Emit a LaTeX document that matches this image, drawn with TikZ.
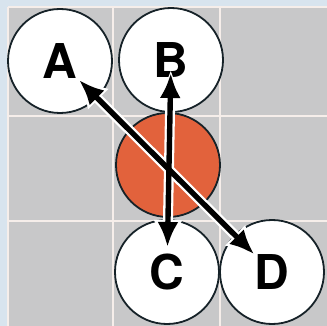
\documentclass[tikz,border=0pt]{standalone}
\usepackage{fontspec}
\setmainfont{TeX Gyre Heros}
\usetikzlibrary{arrows.meta}
\definecolor{panelbg}{RGB}{216,228,238}
\definecolor{cellgray}{RGB}{200,200,201}
\definecolor{gridline}{RGB}{246,238,234}
\definecolor{ringcol}{RGB}{22,34,40}
\definecolor{ballred}{RGB}{226,98,60}

\begin{document}
\begin{tikzpicture}[x=1pt,y=-1pt,
  ball/.style={circle,draw=ringcol,line width=1.8pt,fill=white,minimum size=104pt,inner sep=0pt,font=\fontsize{48}{48}\selectfont\bfseries},
  link/.style={line width=5.4pt,{Latex[length=25pt,width=21pt]}-{Latex[length=25pt,width=21pt]}},
  halo/.style={white,line width=10pt,{Latex[length=30pt,width=30pt]}-{Latex[length=30pt,width=30pt]}}]
\path[use as bounding box,fill=panelbg] (0,0) rectangle (327,326);
\fill[cellgray] (8,7) rectangle (327,326);
\foreach \x in {8,113,220} {
  \draw[gridline,line width=1.1pt] (\x,7)--(\x,326);
}
\foreach \y in {7,116,221} {
  \draw[gridline,line width=1.1pt] (8,\y)--(327,\y);
}
\node[ball,fill=ballred] (mid) at (168,165) {};
\node[ball] (a) at (60,61) {A};
\node[ball] (b) at (171,60) {B};
\node[ball] (c) at (167,272) {C};
\node[ball] (d) at (272,272) {D};
\draw[halo,shorten <=24pt,shorten >=22pt] (a.center)--(d.center);
\draw[halo,shorten <=10pt,shorten >=22pt] (b.center)--(c.center);
\draw[link,shorten <=27pt,shorten >=25pt] (a.center)--(d.center);
\draw[link,shorten <=13pt,shorten >=25pt] (b.center)--(c.center);
\end{tikzpicture}
\end{document}
